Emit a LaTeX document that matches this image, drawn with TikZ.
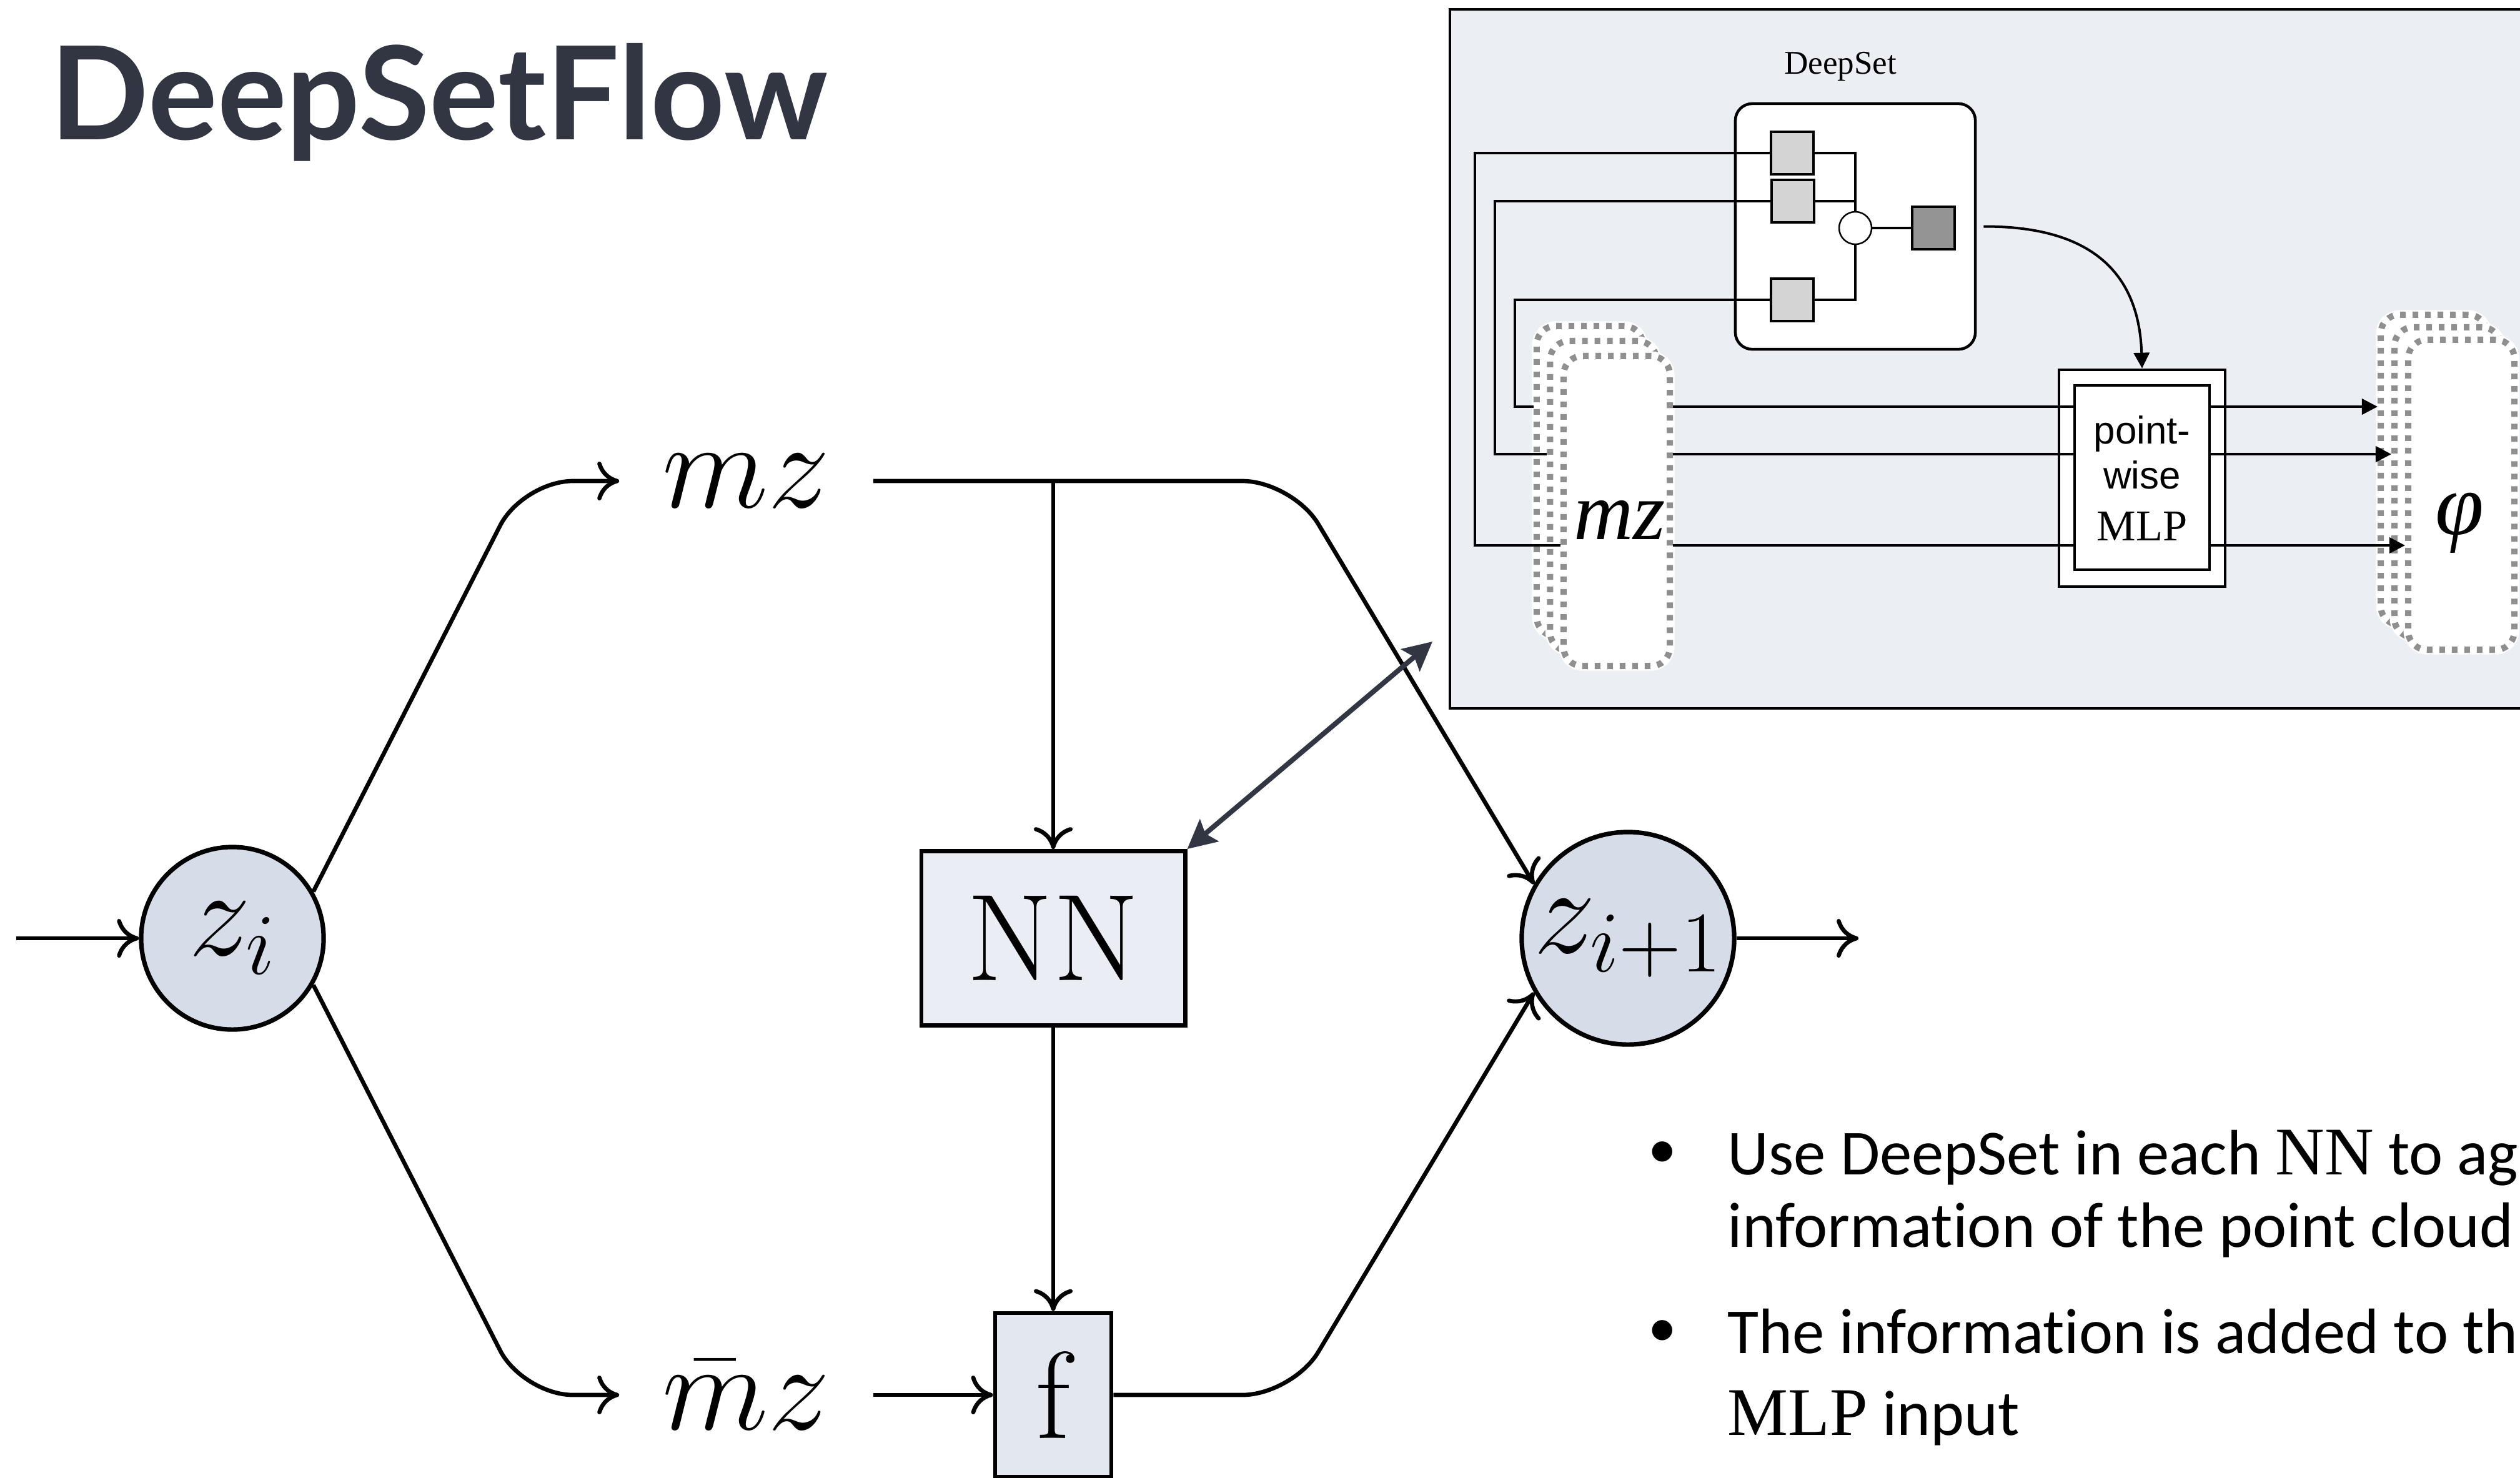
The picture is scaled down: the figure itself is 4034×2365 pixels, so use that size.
\RequirePackage{fix-cm}
\documentclass[tikz,border=0pt]{standalone}
\usepackage{fontspec}
\usetikzlibrary{arrows.meta}
\newfontfamily\titlefont{Lato}
\newfontfamily\bulletfont{Carlito}[Ligatures=NoCommon]
\newfontfamily\timesfont{Liberation Serif}
\newfontfamily\helvfont{Liberation Sans}
\definecolor{circfill}{RGB}{214,221,232}
\definecolor{nnfill}{RGB}{234,237,243}
\definecolor{ffill}{RGB}{226,231,240}
\definecolor{insetbg}{RGB}{235,238,243}
\definecolor{sqgray}{RGB}{212,212,212}
\definecolor{sqdark}{RGB}{148,148,148}
\definecolor{dashgray}{RGB}{143,143,143}
\definecolor{titlecol}{RGB}{50,54,67}
\begin{document}
\begin{tikzpicture}[x=0.01cm,y=-0.01cm,
  mainline/.style={line width=0.067cm, black},
  mtip/.style={-{Computer Modern Rightarrow[length=0.35cm,width=0.62cm]}},
  circnode/.style={circle, draw, line width=0.072cm, fill=circfill, inner sep=0pt},
  boxnode/.style={rectangle, draw, line width=0.067cm, inner sep=0pt},
  bigfont/.style={font=\fontsize{56.3}{60}\selectfont},
  lbl/.style={inner sep=0pt, minimum width=4.05cm, minimum height=1cm, bigfont},
  inl/.style={line width=0.04cm, black},
  itip/.style={-{Triangle[length=0.25cm,width=0.25cm]}},
  sqnode/.style={rectangle, draw, line width=0.045cm, fill=sqgray, minimum size=0.68cm, inner sep=0pt},
  layer/.style={rectangle, rounded corners=0.3cm, fill=white, draw=dashgray, line width=0.1cm,
    dash pattern=on 0.09cm off 0.11cm, minimum width=1.7cm, minimum height=4.96cm, inner sep=0pt,
    preaction={draw=white, line width=0.15cm, solid}},
  bfont/.style={font=\bulletfont\fontsize{29.2}{30}\selectfont},
  dotfont/.style={font=\bulletfont\fontsize{26}{27}\selectfont},
  txt/.style={anchor=base west, inner sep=0pt}
]
\useasboundingbox (0,0) rectangle (4034,2365);
\clip (0,0) rectangle (4034,2365);

% title
\node[txt, font=\titlefont\bfseries\fontsize{59}{60}\selectfont, text=titlecol] (title) at (80,223) {DeepSetFlow};

% ---------- inset ----------
\node[draw, fill=insetbg, line width=0.04cm, anchor=north west, minimum width=17.9cm, minimum height=11.18cm, inner sep=0pt] (inset) at (2319,13) {};
\node[anchor=base, inner sep=0pt, font=\timesfont\fontsize{15.1}{16}\selectfont] (dslabel) at (2946,118) {DeepSet};
\node[draw, fill=white, rounded corners=0.27cm, line width=0.045cm, minimum width=3.84cm, minimum height=3.93cm, inner sep=0pt] (ds) at (2970,362.5) {};

% stacks
\node[layer] (mzA) at (2545,770) {};
\node[layer] (mzB) at (2566.5,794) {};
\node[layer] (mzC) at (2588,818) {};
\node[layer] (phiA) at (3896,752) {};
\node[layer] (phiB) at (3918,772) {};
\node[layer] (phiC) at (3940,792) {};
\node[anchor=base, inner sep=0pt, font=\timesfont\itshape\fontsize{37.5}{40}\selectfont] (mzt) at (2593,863) {mz};
\node[anchor=base, inner sep=0pt, font=\timesfont\itshape\fontsize{40}{42}\selectfont] (phit) at (3937,855) {φ};

% MLP outer
\node[draw, fill=white, line width=0.045cm, minimum width=2.66cm, minimum height=3.47cm, inner sep=0pt] (mlpo) at (3429,765.5) {};

% DeepSet internals
\node[sqnode] (sq1) at (2869,245) {};
\node[sqnode] (sq2) at (2870,322) {};
\node[sqnode] (sq3) at (2869,480) {};
\node[sqnode, fill=sqdark] (dsq) at (3095,365) {};
\node[circle, draw, fill=white, line width=0.025cm, minimum size=0.52cm, inner sep=0pt] (agg) at (2970,365) {};
\draw[inl] (sq1.east) -| (agg.north);
\draw[inl] (sq2.east) -- (sq2.east -| agg.north);
\draw[inl] (sq3.east) -| (agg.south);
\draw[inl] (agg.east) -- (dsq.west);

% feed lines
\coordinate (v1) at (2425,651);
\coordinate (v2) at (2393,727);
\coordinate (v3) at (2361,873);
\draw[inl] (sq3.west) -| (v1) -- (mzA.west |- v1);
\draw[inl] (sq2.west) -| (v2) -- (mzB.west |- v2);
\draw[inl] (sq1.west) -| (v3) -- (mzC.west |- v3);
\draw[inl, itip] (mzC.east |- v1) -- (phiA.west |- v1);
\draw[inl, itip] (mzC.east |- v2) -- (phiB.west |- v2);
\draw[inl, itip] (mzC.east |- v3) -- (phiC.west |- v3);

% MLP inner
\node[draw, fill=white, line width=0.045cm, minimum width=2.16cm, minimum height=2.95cm, inner sep=0pt] (mlpi) at (3429,764.5) {};
\node[anchor=base, inner sep=0pt, font=\helvfont\fontsize{17.6}{18}\selectfont] (t1) at (3429,710) {point-};
\node[anchor=base, inner sep=0pt, font=\helvfont\fontsize{17.6}{18}\selectfont] (t2) at (3429,782) {wise};
\node[anchor=base, inner sep=0pt, font=\timesfont\fontsize{20}{21}\selectfont] (t3) at (3429,865) {MLP};

\draw[inl, itip] ([xshift=0.11cm]ds.east) .. controls (3340,362) and (3424,430) .. (mlpo.north);

% ---------- main diagram ----------
\node[circnode, minimum size=2.92cm, bigfont] (zi) at (372,1502) {$z_i$};
\node[circnode, minimum size=3.4cm, bigfont] (z1) at (2606,1502) {$z_{i+1}$};
\node[lbl] (mz) at (1194.5,770) {$mz$};
\node[lbl] (mbar) at (1194.5,2233) {$\bar{m}z$};
\node[boxnode, fill=nnfill, minimum width=4.22cm, minimum height=2.79cm, bigfont] (NN) at (1686,1502) {NN};
\node[boxnode, fill=ffill, minimum width=1.86cm, minimum height=2.62cm, bigfont] (f) at (1686,2233) {f};

\coordinate (in) at (26,1502);
\coordinate (out) at (2975,1502);
\coordinate (cUL) at (837,770);
\coordinate (cLL) at (837,2233);
\coordinate (cUR) at (2069,770);
\coordinate (cLR) at (2069,2233);
\coordinate (split) at (NN.north |- mz.east);

\draw[mainline, mtip] (in) -- (zi);
\draw[mainline, mtip] (z1) -- (out);
\draw[mainline, mtip, rounded corners=0.8cm] (zi.30) -- (cUL) -- (mz.west);
\draw[mainline, mtip, rounded corners=0.8cm] (zi.-30) -- (cLL) -- (mbar.west);
\draw[mainline, mtip, rounded corners=0.8cm] (mz.east) -- (cUR) -- (z1.150);
\draw[mainline, mtip, rounded corners=0.8cm] (f.east) -- (cLR) -- (z1.210);
\draw[mainline, mtip] (split) -- (NN.north);
\draw[mainline, mtip] (NN.south) -- (f.north);
\draw[mainline, mtip] (mbar.east) -- (f.west);

\coordinate (dsend) at (2293,1027);
\draw[line width=0.08cm, draw=titlecol, {Stealth[length=0.46cm,width=0.46cm,inset=0.08cm]}-{Stealth[length=0.46cm,width=0.46cm,inset=0.08cm]}] (NN.north east) -- (dsend);

% ---------- bullets ----------
\node[txt, dotfont] (b1) at (2638,1869) {•};
\node[txt, bfont] (l1) at (2765,1880) {Use DeepSet in each {\timesfont\fontsize{31}{32}\selectfont NN} to ag};
\node[txt, bfont] (l2) at (2765,1996) {information of the point cloud};
\node[txt, dotfont] (b2) at (2638,2155) {•};
\node[txt, bfont] (l3) at (2765,2166) {The information is added to th};
\node[txt, bfont] (l4) at (2765,2297) {{\timesfont\fontsize{31}{32}\selectfont MLP} input};
\end{tikzpicture}
\end{document}
